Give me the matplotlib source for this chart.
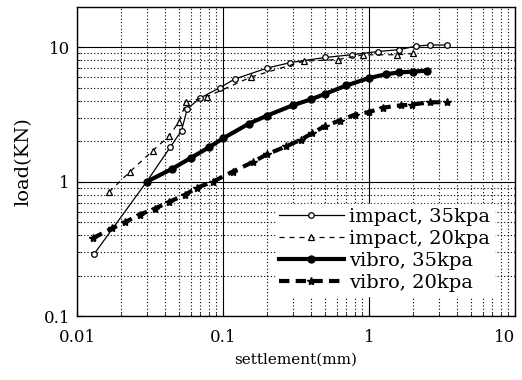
import matplotlib.pyplot as plt
from matplotlib.ticker import FuncFormatter, LogLocator

plt.rcParams['font.family'] = ['DejaVu Serif']

# impact, 35kpa
imp35_x = [0.0131, 0.03, 0.0434, 0.052, 0.057, 0.07, 0.095, 0.12, 0.2, 0.29, 0.5, 0.76, 1.15, 1.6, 2.1, 2.6, 3.4]
imp35_y = [0.29, 1.0, 1.8, 2.4, 3.5, 4.2, 5.0, 5.8, 7.0, 7.7, 8.4, 8.8, 9.3, 9.6, 10.2, 10.4, 10.4]
# impact, 20kpa
imp20_x = [0.0166, 0.0231, 0.033, 0.043, 0.05, 0.056, 0.078, 0.155, 0.36, 0.61, 0.91, 1.56, 2.0]
imp20_y = [0.84, 1.19, 1.7, 2.2, 2.8, 3.9, 4.3, 6.0, 7.9, 8.1, 8.8, 8.8, 9.0]
# vibro, 35kpa
vib35_x = [0.03, 0.045, 0.06, 0.08, 0.1, 0.15, 0.2, 0.3, 0.4, 0.5, 0.7, 1.0, 1.3, 1.6, 2.0, 2.5]
vib35_y = [1.0, 1.25, 1.5, 1.8, 2.1, 2.7, 3.1, 3.7, 4.1, 4.5, 5.2, 5.9, 6.3, 6.5, 6.6, 6.7]
# vibro, 20kpa
vib20_x = [0.0128, 0.0174, 0.0213, 0.027, 0.034, 0.043, 0.055, 0.066, 0.085, 0.117, 0.16, 0.2,
           0.27, 0.34, 0.41, 0.5, 0.63, 0.8, 1.0, 1.25, 1.67, 1.97, 2.6, 3.4]
vib20_y = [0.38, 0.45, 0.5, 0.57, 0.63, 0.71, 0.8, 0.9, 1.0, 1.19, 1.4, 1.6,
           1.83, 2.05, 2.3, 2.6, 2.85, 3.15, 3.3, 3.56, 3.7, 3.75, 3.9, 3.9]

fig = plt.figure(figsize=(5.22, 3.80), dpi=100)
ax = fig.add_axes([0.1475, 0.168, 0.839, 0.814])

ax.plot(imp35_x, imp35_y, '-', color='k', lw=0.9, marker='o', ms=4, mfc='white', mew=0.9,
        label='impact, 35kpa')
ax.plot(imp20_x, imp20_y, '--', color='k', lw=0.9, marker='^', ms=4, mfc='white', mew=0.9,
        dashes=(4, 4), label='impact, 20kpa')
ax.plot(vib35_x, vib35_y, '-', color='k', lw=3, marker='o', ms=5, label='vibro, 35kpa')
ax.plot(vib20_x, vib20_y, '--', color='k', lw=3, marker='*', ms=6, dashes=(2.5, 1.5),
        label='vibro, 20kpa')

ax.set_xscale('log')
ax.set_yscale('log')
ax.set_xlim(0.01, 10)
ax.set_ylim(0.1, 20)
ax.xaxis.set_major_locator(LogLocator(base=10, numticks=10))
ax.yaxis.set_major_locator(LogLocator(base=10, numticks=10))
fmt = FuncFormatter(lambda v, p: '%g' % v)
ax.xaxis.set_major_formatter(fmt)
ax.yaxis.set_major_formatter(fmt)

ax.grid(True, which='major', color='k', lw=0.8, ls='-')
ax.grid(True, which='minor', color='k', lw=0.8, ls=(0, (1, 2)))
ax.tick_params(which='both', direction='in', labelsize=12, colors='k')
ax.tick_params(which='major', length=4)
ax.tick_params(axis='x', which='major', pad=9)
ax.tick_params(axis='y', which='major', pad=5)
ax.tick_params(which='minor', length=2.5)
for s in ax.spines.values():
    s.set_linewidth(1.0)

# keep the "10" at the right edge inside the picture
for lab in ax.get_xticklabels():
    if lab.get_text() == '10':
        lab.set_ha('right')

ax.set_xlabel('settlement(mm)', fontsize=11, labelpad=5)
ax.set_ylabel('load(KN)', fontsize=14, labelpad=8)

ax.legend(loc='lower right', bbox_to_anchor=(0.975, 0.035), fontsize=14, frameon=True,
          fancybox=False, edgecolor='white', framealpha=1, handlelength=3.3,
          numpoints=1, labelspacing=0.2, borderpad=0.2, handletextpad=0.3)

fig.savefig('out.png', dpi=100)
